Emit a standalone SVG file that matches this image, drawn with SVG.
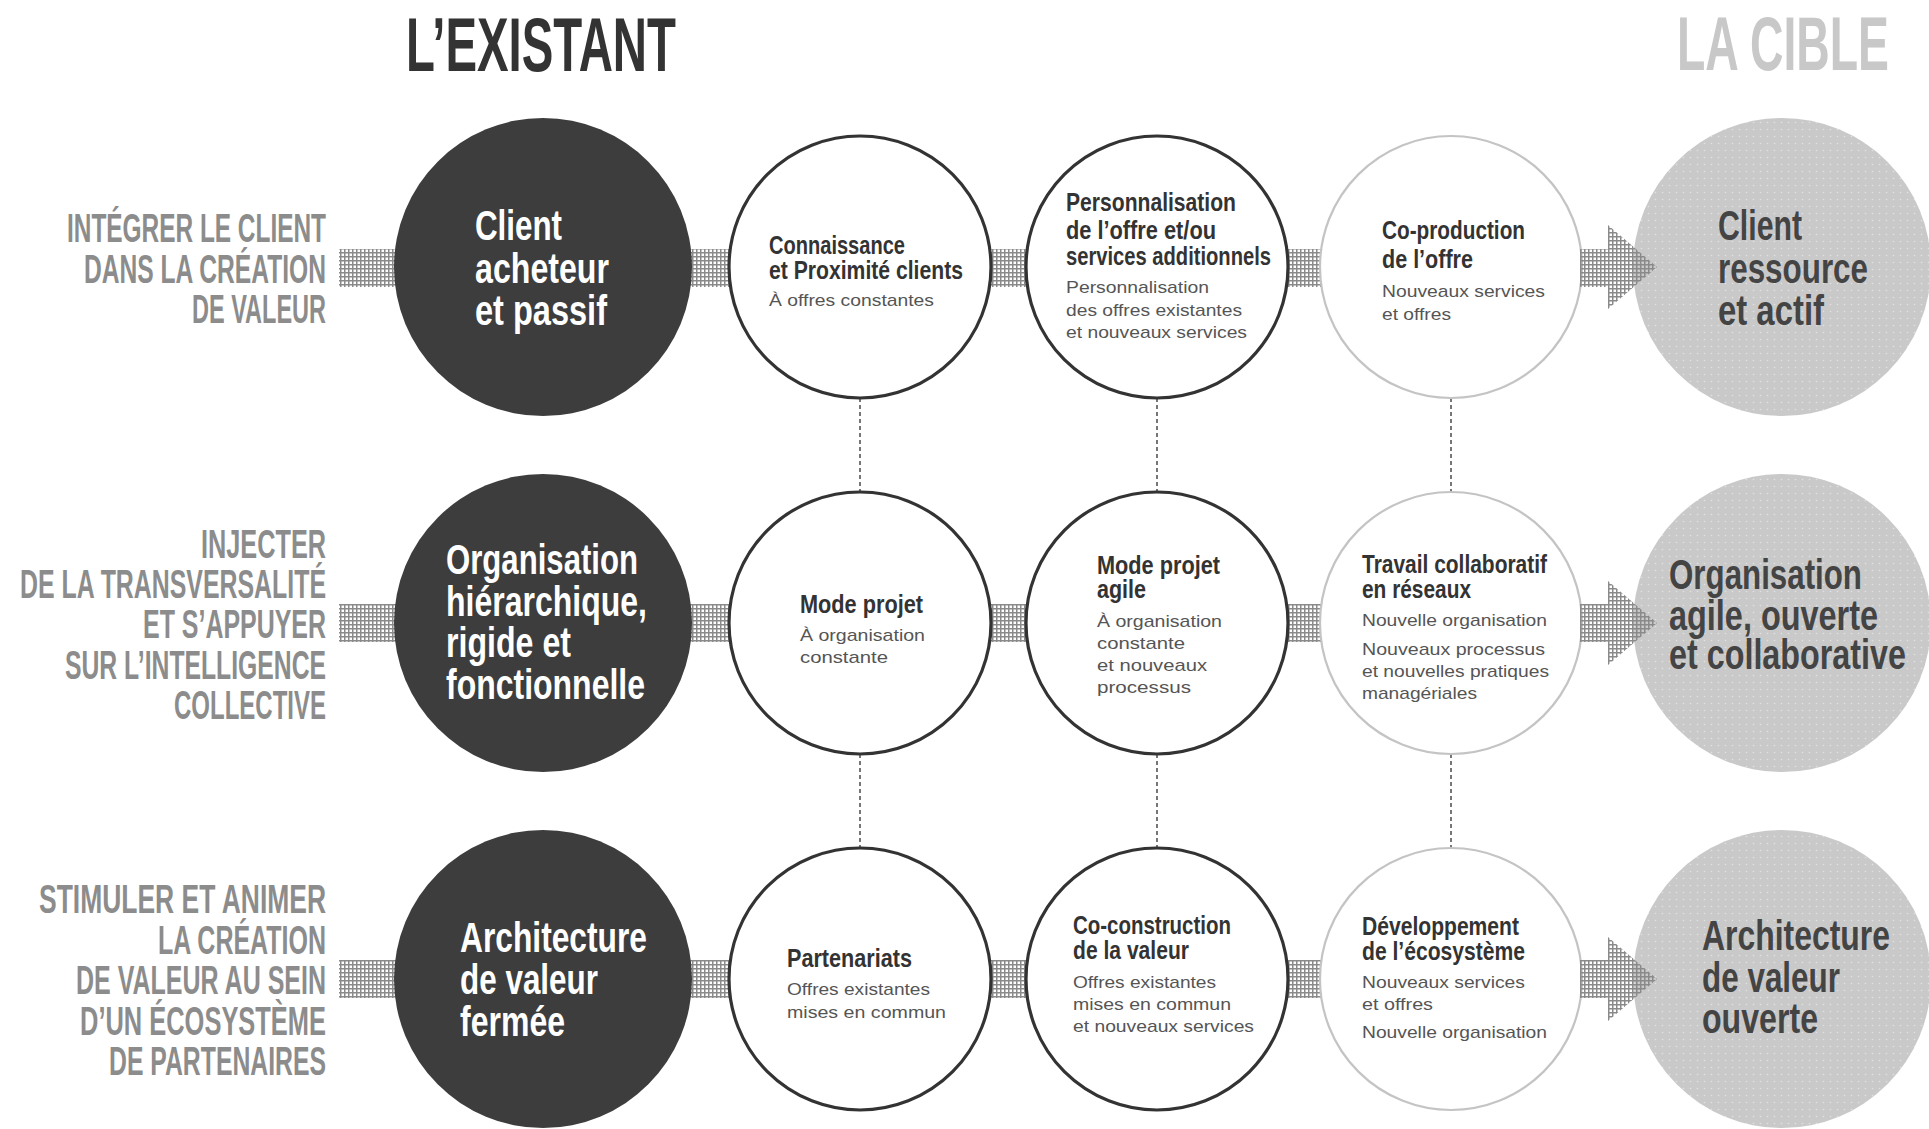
<svg xmlns="http://www.w3.org/2000/svg" width="1929" height="1129" viewBox="0 0 1929 1129">
<defs>
<pattern id="grid" width="4" height="4" patternUnits="userSpaceOnUse">
<rect x="0" y="0" width="4" height="1.5" fill="#8a8a8a"/>
<rect x="0" y="0" width="1.5" height="4" fill="#8a8a8a"/>
</pattern>
<pattern id="dots" width="7" height="7" patternUnits="userSpaceOnUse">
<rect width="7" height="7" fill="#c9c9c9"/>
<circle cx="3.5" cy="3.5" r="0.8" fill="#ffffff" fill-opacity="0.45"/>
</pattern>
</defs>
<style>
text{font-family:"Liberation Sans",Arial,sans-serif}
.hdr{font-size:76px;font-weight:bold}
.lbl{font-size:40px;font-weight:bold;fill:#8c8c8c;text-anchor:end}
.big{font-size:42px;font-weight:bold}
.dk{fill:#3d3d3d}
.tg{fill:url(#dots)}
.wc{fill:#ffffff;stroke:#333333;stroke-width:3.2}
.lc{fill:#ffffff;stroke:#c4c4c4;stroke-width:2.2}
.t{font-size:26px;font-weight:bold;fill:#333333}
.s{font-size:17px;fill:#555555}
.band{fill:url(#grid)}
.dash{stroke:#555555;stroke-width:1.6;stroke-dasharray:4 3;fill:none}
</style>
<rect width="1929" height="1129" fill="#ffffff"/>

<g id="titles">
<text class="hdr" transform="translate(406 0) scale(0.608 1)" fill="#333333"><tspan x="0" y="71" textLength="444" lengthAdjust="spacingAndGlyphs">L’EXISTANT</tspan></text>
<text class="hdr" transform="translate(1677 0) scale(0.605 1)" fill="#c8c8c8"><tspan x="0" y="70" textLength="350.4" lengthAdjust="spacingAndGlyphs">LA CIBLE</tspan></text>
</g>

<g id="labels">
<text class="lbl" x="326" y="242" textLength="259" lengthAdjust="spacingAndGlyphs">INTÉGRER LE CLIENT</text>
<text class="lbl" x="326" y="283" textLength="242" lengthAdjust="spacingAndGlyphs">DANS LA CRÉATION</text>
<text class="lbl" x="326" y="323" textLength="134" lengthAdjust="spacingAndGlyphs">DE VALEUR</text>
<text class="lbl" x="326" y="558" textLength="125" lengthAdjust="spacingAndGlyphs">INJECTER</text>
<text class="lbl" x="326" y="598" textLength="306" lengthAdjust="spacingAndGlyphs">DE LA TRANSVERSALITÉ</text>
<text class="lbl" x="326" y="638" textLength="183" lengthAdjust="spacingAndGlyphs">ET S’APPUYER</text>
<text class="lbl" x="326" y="679" textLength="261" lengthAdjust="spacingAndGlyphs">SUR L’INTELLIGENCE</text>
<text class="lbl" x="326" y="719" textLength="152" lengthAdjust="spacingAndGlyphs">COLLECTIVE</text>
<text class="lbl" x="326" y="913" textLength="287" lengthAdjust="spacingAndGlyphs">STIMULER ET ANIMER</text>
<text class="lbl" x="326" y="954" textLength="168" lengthAdjust="spacingAndGlyphs">LA CRÉATION</text>
<text class="lbl" x="326" y="994" textLength="250" lengthAdjust="spacingAndGlyphs">DE VALEUR AU SEIN</text>
<text class="lbl" x="326" y="1035" textLength="246" lengthAdjust="spacingAndGlyphs">D’UN ÉCOSYSTÈME</text>
<text class="lbl" x="326" y="1075" textLength="217" lengthAdjust="spacingAndGlyphs">DE PARTENAIRES</text>
</g>

<g id="connectors">
<rect class="band" x="339" y="249" width="80" height="38"/>
<rect class="band" x="680" y="249" width="60" height="38"/>
<rect class="band" x="980" y="249" width="60" height="38"/>
<rect class="band" x="1276" y="249" width="56" height="38"/>
<rect class="band" x="339" y="604" width="80" height="38"/>
<rect class="band" x="680" y="604" width="60" height="38"/>
<rect class="band" x="980" y="604" width="60" height="38"/>
<rect class="band" x="1276" y="604" width="56" height="38"/>
<rect class="band" x="339" y="960" width="80" height="38"/>
<rect class="band" x="680" y="960" width="60" height="38"/>
<rect class="band" x="980" y="960" width="60" height="38"/>
<rect class="band" x="1276" y="960" width="56" height="38"/>
<path class="dash" d="M860 398V492M1157 398V492M1451 398V492M860 754V848M1157 754V848M1451 754V848"/>
</g>

<g id="n-client-acheteur">
<circle class="dk" cx="543" cy="267" r="149"/>
<text class="big" fill="#ffffff"><tspan x="475" y="240" textLength="87" lengthAdjust="spacingAndGlyphs">Client</tspan><tspan x="475" y="283" textLength="134" lengthAdjust="spacingAndGlyphs">acheteur</tspan><tspan x="475" y="325" textLength="132" lengthAdjust="spacingAndGlyphs">et passif</tspan></text>
</g>
<g id="n-org-hierarchique">
<circle class="dk" cx="543" cy="623" r="149"/>
<text class="big" fill="#ffffff"><tspan x="446" y="574" textLength="192" lengthAdjust="spacingAndGlyphs">Organisation</tspan><tspan x="446" y="616" textLength="201" lengthAdjust="spacingAndGlyphs">hiérarchique,</tspan><tspan x="446" y="657" textLength="125" lengthAdjust="spacingAndGlyphs">rigide et</tspan><tspan x="446" y="699" textLength="199" lengthAdjust="spacingAndGlyphs">fonctionnelle</tspan></text>
</g>
<g id="n-archi-fermee">
<circle class="dk" cx="543" cy="979" r="149"/>
<text class="big" fill="#ffffff"><tspan x="460" y="952" textLength="187" lengthAdjust="spacingAndGlyphs">Architecture</tspan><tspan x="460" y="994" textLength="138" lengthAdjust="spacingAndGlyphs">de valeur</tspan><tspan x="460" y="1036" textLength="105" lengthAdjust="spacingAndGlyphs">fermée</tspan></text>
</g>

<g id="n-connaissance">
<circle class="wc" cx="860" cy="267" r="131"/>
<text class="t"><tspan x="769" y="254" textLength="136" lengthAdjust="spacingAndGlyphs">Connaissance</tspan><tspan x="769" y="279" textLength="194" lengthAdjust="spacingAndGlyphs">et Proximité clients</tspan></text>
<text class="s"><tspan x="769" y="306" textLength="165" lengthAdjust="spacingAndGlyphs">À offres constantes</tspan></text>
</g>
<g id="n-personnalisation">
<circle class="wc" cx="1157" cy="267" r="131"/>
<text class="t"><tspan x="1066" y="211" textLength="170" lengthAdjust="spacingAndGlyphs">Personnalisation</tspan><tspan x="1066" y="239" textLength="150" lengthAdjust="spacingAndGlyphs">de l’offre et/ou</tspan><tspan x="1066" y="265" textLength="205" lengthAdjust="spacingAndGlyphs">services additionnels</tspan></text>
<text class="s"><tspan x="1066" y="293" textLength="143" lengthAdjust="spacingAndGlyphs">Personnalisation</tspan><tspan x="1066" y="316" textLength="176" lengthAdjust="spacingAndGlyphs">des offres existantes</tspan><tspan x="1066" y="338" textLength="181" lengthAdjust="spacingAndGlyphs">et nouveaux services</tspan></text>
</g>
<g id="n-coproduction">
<circle class="lc" cx="1451" cy="267" r="131"/>
<text class="t"><tspan x="1382" y="239" textLength="143" lengthAdjust="spacingAndGlyphs">Co-production</tspan><tspan x="1382" y="268" textLength="91" lengthAdjust="spacingAndGlyphs">de l’offre</tspan></text>
<text class="s"><tspan x="1382" y="297" textLength="163" lengthAdjust="spacingAndGlyphs">Nouveaux services</tspan><tspan x="1382" y="320" textLength="69" lengthAdjust="spacingAndGlyphs">et offres</tspan></text>
</g>

<g id="n-mode-projet">
<circle class="wc" cx="860" cy="623" r="131"/>
<text class="t"><tspan x="800" y="613" textLength="123" lengthAdjust="spacingAndGlyphs">Mode projet</tspan></text>
<text class="s"><tspan x="800" y="641" textLength="125" lengthAdjust="spacingAndGlyphs">À organisation</tspan><tspan x="800" y="663" textLength="88" lengthAdjust="spacingAndGlyphs">constante</tspan></text>
</g>
<g id="n-mode-projet-agile">
<circle class="wc" cx="1157" cy="623" r="131"/>
<text class="t"><tspan x="1097" y="574" textLength="123" lengthAdjust="spacingAndGlyphs">Mode projet</tspan><tspan x="1097" y="598" textLength="49" lengthAdjust="spacingAndGlyphs">agile</tspan></text>
<text class="s"><tspan x="1097" y="627" textLength="125" lengthAdjust="spacingAndGlyphs">À organisation</tspan><tspan x="1097" y="649" textLength="88" lengthAdjust="spacingAndGlyphs">constante</tspan><tspan x="1097" y="671" textLength="110" lengthAdjust="spacingAndGlyphs">et nouveaux</tspan><tspan x="1097" y="693" textLength="94" lengthAdjust="spacingAndGlyphs">processus</tspan></text>
</g>
<g id="n-travail-collaboratif">
<circle class="lc" cx="1451" cy="623" r="131"/>
<text class="t"><tspan x="1362" y="573" textLength="185" lengthAdjust="spacingAndGlyphs">Travail collaboratif</tspan><tspan x="1362" y="598" textLength="109" lengthAdjust="spacingAndGlyphs">en réseaux</tspan></text>
<text class="s"><tspan x="1362" y="626" textLength="185" lengthAdjust="spacingAndGlyphs">Nouvelle organisation</tspan><tspan x="1362" y="655" textLength="183" lengthAdjust="spacingAndGlyphs">Nouveaux processus</tspan><tspan x="1362" y="677" textLength="187" lengthAdjust="spacingAndGlyphs">et nouvelles pratiques</tspan><tspan x="1362" y="699" textLength="115" lengthAdjust="spacingAndGlyphs">managériales</tspan></text>
</g>

<g id="n-partenariats">
<circle class="wc" cx="860" cy="979" r="131"/>
<text class="t"><tspan x="787" y="967" textLength="125" lengthAdjust="spacingAndGlyphs">Partenariats</tspan></text>
<text class="s"><tspan x="787" y="995" textLength="143" lengthAdjust="spacingAndGlyphs">Offres existantes</tspan><tspan x="787" y="1018" textLength="159" lengthAdjust="spacingAndGlyphs">mises en commun</tspan></text>
</g>
<g id="n-coconstruction">
<circle class="wc" cx="1157" cy="979" r="131"/>
<text class="t"><tspan x="1073" y="934" textLength="158" lengthAdjust="spacingAndGlyphs">Co-construction</tspan><tspan x="1073" y="959" textLength="116" lengthAdjust="spacingAndGlyphs">de la valeur</tspan></text>
<text class="s"><tspan x="1073" y="988" textLength="143" lengthAdjust="spacingAndGlyphs">Offres existantes</tspan><tspan x="1073" y="1010" textLength="158" lengthAdjust="spacingAndGlyphs">mises en commun</tspan><tspan x="1073" y="1032" textLength="181" lengthAdjust="spacingAndGlyphs">et nouveaux services</tspan></text>
</g>
<g id="n-developpement">
<circle class="lc" cx="1451" cy="979" r="131"/>
<text class="t"><tspan x="1362" y="935" textLength="157" lengthAdjust="spacingAndGlyphs">Développement</tspan><tspan x="1362" y="960" textLength="163" lengthAdjust="spacingAndGlyphs">de l’écosystème</tspan></text>
<text class="s"><tspan x="1362" y="988" textLength="163" lengthAdjust="spacingAndGlyphs">Nouveaux services</tspan><tspan x="1362" y="1010" textLength="71" lengthAdjust="spacingAndGlyphs">et offres</tspan><tspan x="1362" y="1038" textLength="185" lengthAdjust="spacingAndGlyphs">Nouvelle organisation</tspan></text>
</g>

<g id="n-client-ressource">
<circle class="tg" cx="1782" cy="267" r="149"/>
<text class="big" fill="#444444" transform="translate(1718 0) scale(0.75 1)"><tspan x="0" y="240" textLength="112" lengthAdjust="spacingAndGlyphs">Client</tspan><tspan x="0" y="283" textLength="200" lengthAdjust="spacingAndGlyphs">ressource</tspan><tspan x="0" y="325" textLength="141.3" lengthAdjust="spacingAndGlyphs">et actif</tspan></text>
</g>
<g id="n-org-agile">
<circle class="tg" cx="1782" cy="623" r="149"/>
<text class="big" fill="#444444" transform="translate(1669 0) scale(0.75 1)"><tspan x="0" y="589" textLength="257.3" lengthAdjust="spacingAndGlyphs">Organisation</tspan><tspan x="0" y="630" textLength="278.7" lengthAdjust="spacingAndGlyphs">agile, ouverte</tspan><tspan x="0" y="669" textLength="316" lengthAdjust="spacingAndGlyphs">et collaborative</tspan></text>
</g>
<g id="n-archi-ouverte">
<circle class="tg" cx="1782" cy="979" r="149"/>
<text class="big" fill="#444444" transform="translate(1702 0) scale(0.75 1)"><tspan x="0" y="950" textLength="250.7" lengthAdjust="spacingAndGlyphs">Architecture</tspan><tspan x="0" y="992" textLength="184" lengthAdjust="spacingAndGlyphs">de valeur</tspan><tspan x="0" y="1033" textLength="154.7" lengthAdjust="spacingAndGlyphs">ouverte</tspan></text>
</g>

<g id="arrows">
<path class="band" d="M1580 249H1608V225L1657 267L1608 309V287H1580Z"/>
<path class="band" d="M1580 604H1608V581L1657 623L1608 665V642H1580Z"/>
<path class="band" d="M1580 960H1608V937L1657 979L1608 1021V998H1580Z"/>
</g>
</svg>
